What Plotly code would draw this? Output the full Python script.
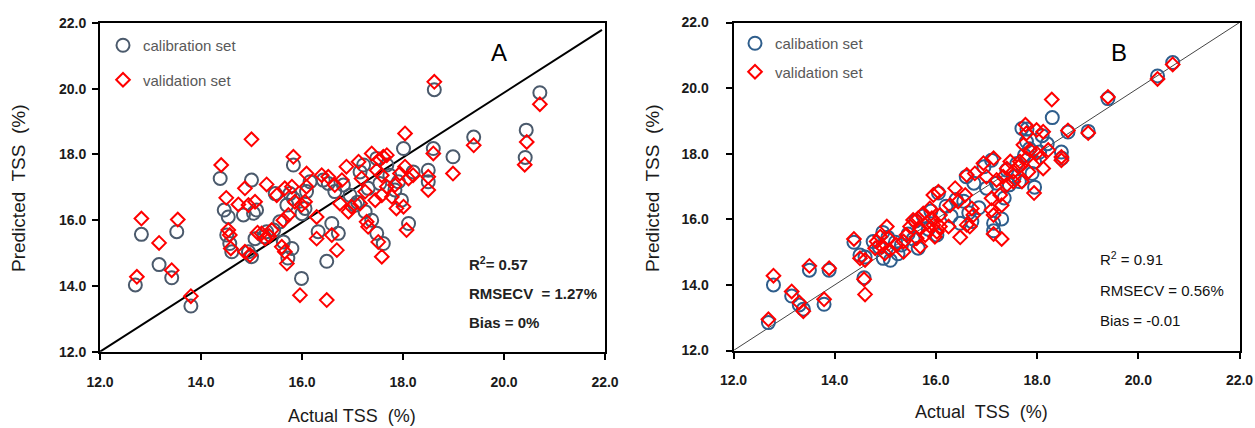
import plotly.graph_objects as go

# ---------------- data ----------------
# Panel A calibration set (circles)
a_cal_x = [12.70, 12.82, 13.17, 13.42, 13.52, 13.80,
           19.40, 20.44, 20.42, 20.71, 18.62,
           14.38, 15.00, 15.83, 14.46, 14.54, 14.51, 14.57, 14.61, 14.84, 15.04,
           15.10, 14.94, 15.00, 15.07, 15.30, 15.47, 15.56, 15.70, 15.76, 15.83,
           15.63, 15.80, 15.99, 16.06, 16.09, 16.16, 16.32, 16.49, 16.59, 16.72,
           16.42, 16.52, 16.65, 16.82, 16.95, 17.05, 17.15, 17.22, 17.25, 17.31,
           17.38, 17.48, 17.54, 17.48, 17.61, 17.68, 17.74, 17.84, 17.91, 18.01,
           17.97, 18.11, 18.20, 18.50, 18.50, 18.60, 18.99, 15.72, 16.00, 15.25,
           15.44, 17.10]
a_cal_y = [14.03, 15.57, 14.65, 14.25, 15.65, 13.39,
           18.53, 18.74, 17.91, 19.88, 19.97,
           17.27, 17.22, 17.68, 16.31, 16.10, 15.55, 15.29, 15.04, 16.16, 16.21,
           16.31, 15.04, 14.89, 15.44, 15.65, 16.81, 15.95, 16.46, 16.81, 16.66,
           15.34, 15.14, 14.23, 16.36, 16.87, 17.17, 15.65, 14.75, 15.90, 15.60,
           17.22, 17.12, 16.87, 17.07, 16.76, 16.46, 17.47, 17.68, 16.26, 16.97,
           16.00, 17.88, 17.12, 15.60, 15.29, 17.68, 17.37, 16.92, 17.17, 18.18,
           16.61, 15.90, 17.47, 17.52, 17.17, 18.18, 17.93, 14.85, 16.20, 15.50,
           15.70, 16.55]

# Panel A validation set (diamonds)
a_val_x = [12.73, 12.82, 13.17, 13.42, 13.54, 13.80,
           19.40, 20.45, 20.41, 20.71, 18.62,
           15.00, 14.40, 15.83, 15.30, 14.50, 14.74, 14.87, 14.94, 15.07, 14.54,
           14.57, 14.59, 14.87, 14.97, 15.20, 15.27, 15.40, 15.50, 15.66, 15.80,
           15.86, 15.73, 15.63, 15.60, 15.66, 15.70, 16.09, 15.99, 16.09, 16.06,
           16.29, 16.29, 15.96, 16.49, 16.59, 16.69, 16.39, 16.52, 16.65, 16.79,
           16.88, 16.75, 16.92, 16.98, 17.12, 17.18, 17.25, 17.15, 17.28, 17.31,
           17.38, 17.54, 17.61, 17.68, 17.48, 17.58, 17.68, 17.45, 17.58, 17.78,
           17.84, 17.87, 17.94, 18.04, 18.04, 18.11, 18.20, 18.01, 18.07, 17.58,
           17.51, 18.50, 18.50, 18.60, 18.99, 15.12, 15.35]
a_val_y = [14.28, 16.05, 15.31, 14.48, 16.02, 13.69,
           18.28, 18.38, 17.69, 19.53, 20.21,
           18.46, 17.68, 17.93, 17.09, 16.68, 16.48, 16.97, 16.46, 16.56, 15.70,
           15.55, 15.14, 15.04, 14.94, 15.60, 15.44, 15.70, 16.76, 16.97, 17.02,
           16.56, 16.16, 16.00, 15.19, 15.04, 14.68, 17.42, 16.46, 17.02, 16.56,
           16.10, 15.44, 13.72, 13.57, 15.55, 15.09, 17.37, 17.32, 17.07, 17.22,
           17.63, 16.51, 16.26, 16.41, 17.78, 17.27, 16.87, 16.51, 15.95, 15.80,
           18.03, 17.83, 17.93, 17.98, 17.52, 17.37, 17.02, 16.61, 16.76, 16.71,
           17.07, 16.36, 17.42, 18.64, 17.63, 17.27, 17.37, 16.41, 15.70, 14.89,
           15.34, 17.32, 16.92, 18.03, 17.42, 15.62, 15.52]

# Panel B calibration set (circles)
b_cal_x = [12.69, 12.79, 13.15, 13.30, 13.38, 13.50, 13.79, 13.89, 14.38, 14.58,
           18.30, 19.40, 19.01, 18.61, 20.38, 20.68, 18.48, 17.95, 17.30, 17.14,
           16.48, 14.96, 14.76, 14.50, 15.32, 15.65, 16.02, 16.71, 17.14, 18.49,
           17.70, 17.79,
           15.05, 14.88, 15.20, 15.45, 15.60, 15.75, 15.90, 16.05, 16.20, 16.40,
           16.60, 16.75, 16.95, 17.10, 17.20, 17.40, 17.55, 17.60, 17.75, 17.85,
           17.95, 18.05, 18.20, 17.65, 17.45, 17.00, 16.65, 16.30, 15.85, 15.55,
           15.25, 15.10, 14.95, 14.60, 16.55, 17.35, 17.80, 18.10, 17.90, 16.85]
b_cal_y = [12.85, 14.00, 13.66, 13.39, 13.26, 14.45, 13.41, 14.45, 15.30, 14.22,
           19.10, 19.68, 18.68, 18.66, 20.37, 20.78, 18.05, 16.98, 16.01, 15.65,
           15.88, 14.81, 15.32, 14.91, 15.22, 15.12, 15.52, 15.93, 15.88, 17.86,
           18.77, 18.37,
           15.45, 15.15, 15.30, 15.55, 15.95, 16.10, 16.25, 16.80, 16.40, 16.60,
           17.30, 17.10, 17.60, 17.80, 17.10, 17.50, 17.30, 17.70, 17.95, 18.15,
           17.75, 18.05, 18.30, 17.15, 17.05, 16.95, 16.20, 16.10, 15.70, 15.40,
           14.95, 14.75, 15.60, 14.85, 16.55, 16.65, 18.75, 18.55, 17.40, 16.35]

# Panel B validation set (diamonds)
b_val_x = [12.69, 12.79, 13.15, 13.30, 13.38, 13.50, 13.79, 13.89, 14.38, 14.58,
           14.60, 18.29, 19.40, 19.01, 18.61, 20.38, 20.68, 18.48, 18.48, 17.94,
           17.30, 17.14, 16.48, 17.77,
           17.27, 17.30, 17.14, 17.10, 16.71, 16.74, 16.67, 16.08, 15.95, 16.05,
           16.38, 16.61, 16.77, 16.94, 17.14, 17.00, 17.20, 17.40, 17.47, 17.53,
           17.63, 17.79, 17.99, 18.12, 17.73, 17.86, 17.99, 18.06, 17.79, 17.66,
           17.53, 17.70, 17.83, 18.12, 18.22, 17.40, 17.33, 16.58, 16.44, 16.28,
           15.88, 15.75, 15.65, 15.55, 15.49, 15.69, 15.82, 15.92, 15.62, 15.79,
           16.02, 15.95, 16.08, 15.42, 15.36, 15.03, 15.06, 14.90, 14.83, 14.93,
           14.80, 15.09, 15.22, 14.99, 15.36, 15.69, 15.98, 14.50, 14.60, 16.25,
           17.10, 16.61]
b_val_y = [12.95, 14.28, 13.80, 13.46, 13.20, 14.58, 13.56, 14.51, 15.40, 14.17,
           13.71, 19.65, 19.73, 18.63, 18.71, 20.28, 20.72, 17.90, 17.80, 16.80,
           15.40, 15.55, 15.45, 18.88,
           16.74, 16.43, 16.13, 16.28, 16.33, 16.13, 15.78, 16.13, 16.74, 16.84,
           16.95, 17.35, 17.40, 17.71, 17.86, 17.30, 17.20, 17.55, 17.76, 17.45,
           17.60, 18.62, 18.72, 18.67, 18.27, 18.11, 18.01, 17.86, 17.86, 17.76,
           17.15, 17.15, 17.45, 17.55, 18.11, 17.05, 17.30, 16.74, 16.54, 16.43,
           16.33, 16.18, 16.03, 15.98, 15.78, 15.72, 15.88, 16.03, 15.42, 15.52,
           15.62, 15.83, 15.78, 15.52, 15.32, 15.78, 15.42, 15.47, 15.32, 15.17,
           15.12, 15.06, 15.22, 14.96, 15.01, 15.17, 15.47, 14.81, 14.76, 15.78,
           16.64, 15.83]

# reference lines
line_a_x = [12.0, 21.94]
line_a_y = [12.0, 21.79]
line_b_x = [12.0, 22.0]
line_b_y = [12.0, 22.0]

tick_vals = [12, 14, 16, 18, 20, 22]
tick_text = ["12.0", "14.0", "16.0", "18.0", "20.0", "22.0"]

stats_a = ["R<sup>2</sup>= 0.57", "RMSECV  = 1.27%", "Bias = 0%"]
stats_b = ["R<sup>2</sup> = 0.91", "RMSECV = 0.56%", "Bias = -0.01"]

# ---------------- figure ----------------
W, H = 1255, 428
FONT = "Arial, Liberation Sans, sans-serif"
CIRC_A = "#4B5A6C"
CIRC_B = "#2F5E8C"
RED = "#FF0000"

fig = go.Figure()

fig.add_trace(go.Scatter(x=line_a_x, y=line_a_y, mode="lines",
                         line=dict(color="black", width=2),
                         showlegend=False, xaxis="x", yaxis="y", hoverinfo="skip"))
fig.add_trace(go.Scatter(x=a_cal_x, y=a_cal_y, mode="markers", name="calibration set",
                         marker=dict(symbol="circle-open", size=13, color=CIRC_A,
                                     line=dict(width=2, color=CIRC_A)),
                         xaxis="x", yaxis="y", legend="legend", legendgroup="a1"))
fig.add_trace(go.Scatter(x=a_val_x, y=a_val_y, mode="markers", name="validation set",
                         marker=dict(symbol="diamond-open", size=10.5, color=RED,
                                     line=dict(width=2, color=RED)),
                         xaxis="x", yaxis="y", legend="legend", legendgroup="a2"))

fig.add_trace(go.Scatter(x=line_b_x, y=line_b_y, mode="lines",
                         line=dict(color="#444444", width=1),
                         showlegend=False, xaxis="x2", yaxis="y2", hoverinfo="skip"))
fig.add_trace(go.Scatter(x=b_cal_x, y=b_cal_y, mode="markers", name="calibation set",
                         marker=dict(symbol="circle-open", size=13, color=CIRC_B,
                                     line=dict(width=2, color=CIRC_B)),
                         xaxis="x2", yaxis="y2", legend="legend2", legendgroup="b1"))
fig.add_trace(go.Scatter(x=b_val_x, y=b_val_y, mode="markers", name="validation set",
                         marker=dict(symbol="diamond-open", size=10.5, color=RED,
                                     line=dict(width=2, color=RED)),
                         xaxis="x2", yaxis="y2", legend="legend2", legendgroup="b2"))

def px_x(p):
    return p / W

def px_y(p):
    return 1 - p / H

axis_common = dict(range=[12, 22], tickmode="array", tickvals=tick_vals, ticktext=tick_text,
                   ticks="outside", ticklen=6, tickwidth=2, tickcolor="black",
                   showline=True, linewidth=2, linecolor="black", mirror=True,
                   showgrid=False, zeroline=False,
                   tickfont=dict(family=FONT, size=14, color="#1a1a1a", weight="bold"))

fig.update_layout(
    width=W, height=H, autosize=False,
    margin=dict(l=0, r=0, t=0, b=0, pad=0, autoexpand=False),
    paper_bgcolor="white", plot_bgcolor="white",
    xaxis=dict(domain=[px_x(100), px_x(605)], anchor="y", ticklabelstandoff=10, **axis_common),
    yaxis=dict(domain=[px_y(351.7), px_y(23)], anchor="x", ticklabelstandoff=3, **axis_common),
    xaxis2=dict(domain=[px_x(733.5), px_x(1239.5)], anchor="y2", ticklabelstandoff=10, **axis_common),
    yaxis2=dict(domain=[px_y(350.5), px_y(22.5)], anchor="x2", ticklabelstandoff=14, **axis_common),
    legend=dict(x=px_x(103), y=px_y(29), xanchor="left", yanchor="top",
                bgcolor="rgba(0,0,0,0)", tracegroupgap=12,
                font=dict(family=FONT, size=15, color="#595959")),
    legend2=dict(x=px_x(735), y=px_y(27), xanchor="left", yanchor="top",
                 bgcolor="rgba(0,0,0,0)", tracegroupgap=6,
                 font=dict(family=FONT, size=15, color="#595959")),
)

ann = []
# axis titles
ann.append(dict(text="Actual TSS  (%)", x=px_x(352), y=px_y(416), xref="paper", yref="paper",
                showarrow=False, xanchor="center", yanchor="middle",
                font=dict(family=FONT, size=18, color="#1a1a1a")))
ann.append(dict(text="Actual  TSS  (%)", x=px_x(981), y=px_y(412), xref="paper", yref="paper",
                showarrow=False, xanchor="center", yanchor="middle",
                font=dict(family=FONT, size=18, color="#1a1a1a")))
ann.append(dict(text="Predicted  TSS  (%)", x=px_x(19), y=px_y(188), xref="paper", yref="paper",
                showarrow=False, textangle=-90, xanchor="center", yanchor="middle",
                font=dict(family=FONT, size=19, color="#1a1a1a")))
ann.append(dict(text="Predicted  TSS  (%)", x=px_x(653), y=px_y(188), xref="paper", yref="paper",
                showarrow=False, textangle=-90, xanchor="center", yanchor="middle",
                font=dict(family=FONT, size=19, color="#1a1a1a")))
# panel letters
ann.append(dict(text="A", x=px_x(499), y=px_y(52), xref="paper", yref="paper",
                showarrow=False, xanchor="center", yanchor="middle",
                font=dict(family=FONT, size=24, color="black")))
ann.append(dict(text="B", x=px_x(1119), y=px_y(52), xref="paper", yref="paper",
                showarrow=False, xanchor="center", yanchor="middle",
                font=dict(family=FONT, size=24, color="black")))
# statistics
for txt, yy in zip(stats_a, [263, 293, 322]):
    ann.append(dict(text=txt, x=px_x(467), y=px_y(yy), xref="paper", yref="paper",
                    showarrow=False, xanchor="left", yanchor="middle",
                    font=dict(family=FONT, size=15, color="#222222", weight="bold")))
for txt, yy in zip(stats_b, [258, 290, 320]):
    ann.append(dict(text=txt, x=px_x(1098), y=px_y(yy), xref="paper", yref="paper",
                    showarrow=False, xanchor="left", yanchor="middle",
                    font=dict(family=FONT, size=15, color="#111111")))

fig.update_layout(annotations=ann)
fig.write_html("out.html", config={"displayModeBar": False},
               post_script="document.body.style.margin='0';document.body.style.padding='0';")
